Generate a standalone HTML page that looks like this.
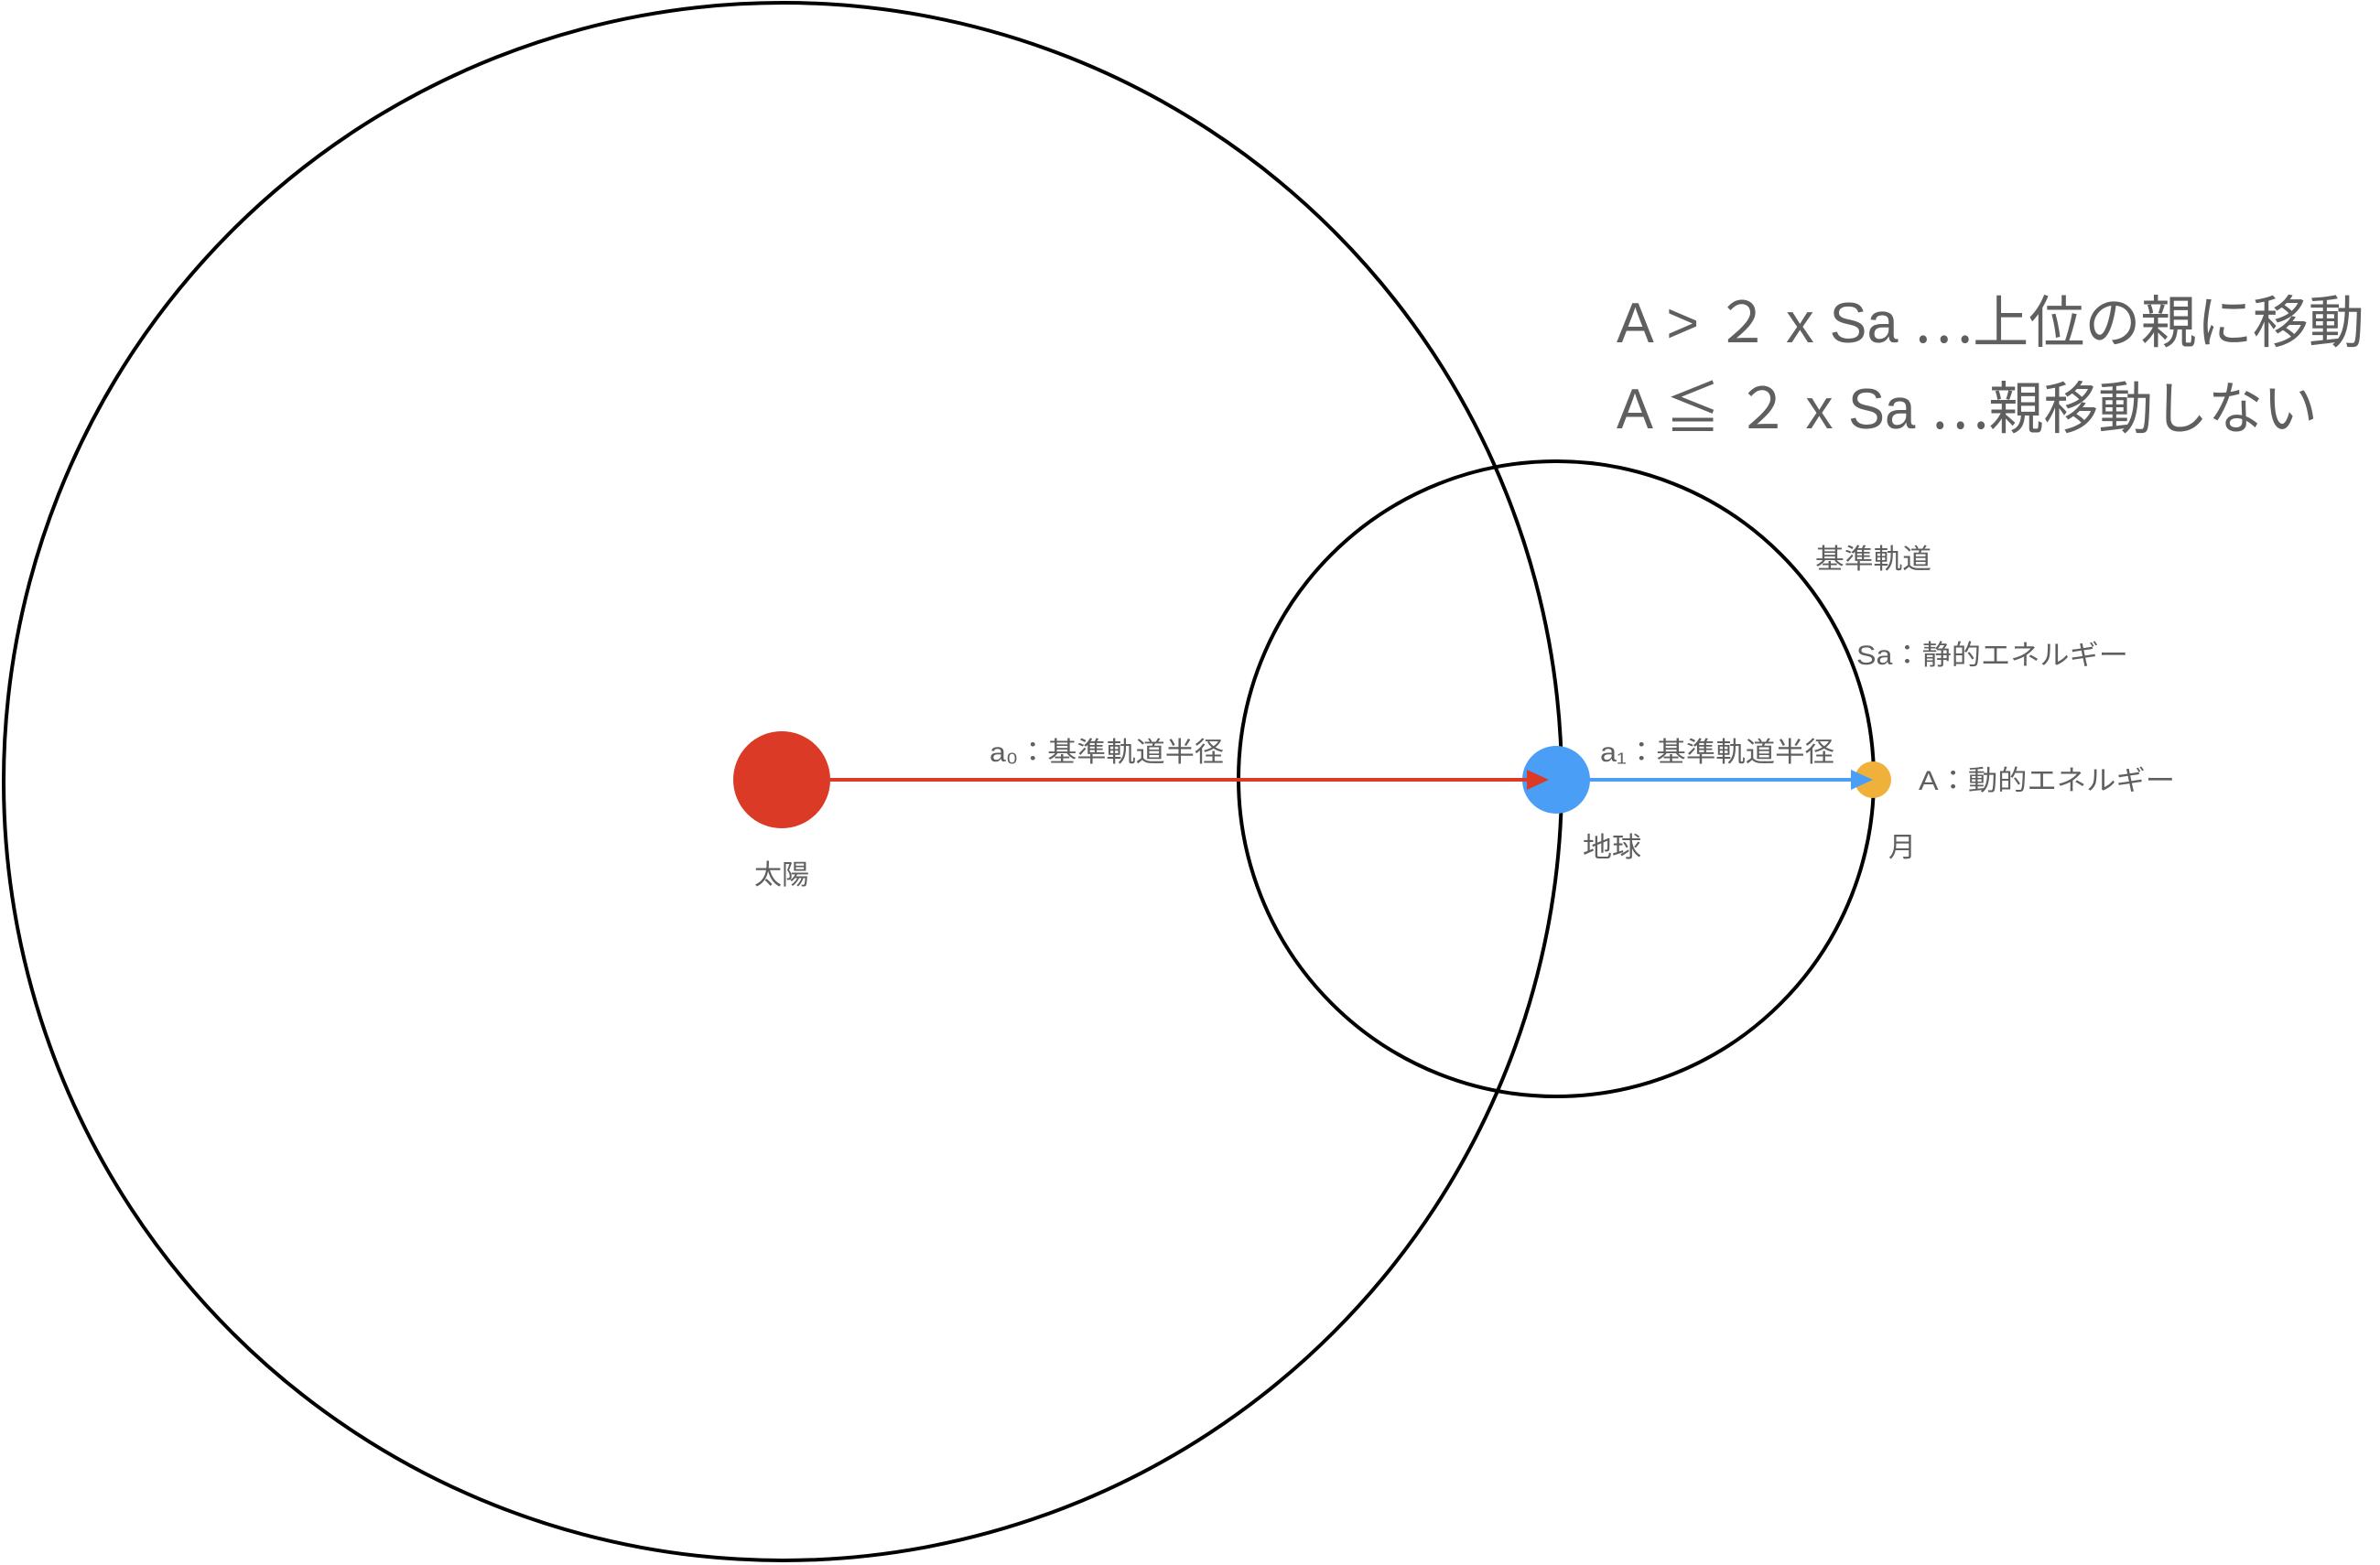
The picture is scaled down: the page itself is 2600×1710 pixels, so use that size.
<!DOCTYPE html>
<html><head><meta charset="utf-8"><style>html,body{margin:0;padding:0;background:#fff}svg{display:block}</style></head>
<body>
<svg width="2600" height="1710" viewBox="0 0 2600 1710" xmlns="http://www.w3.org/2000/svg" font-family="'Liberation Sans','Noto Sans CJK JP',sans-serif" fill="#5f5f5f">
<circle cx="855" cy="854" r="851" fill="none" stroke="#000" stroke-width="4"/>
<circle cx="1700" cy="851" r="347" fill="none" stroke="#000" stroke-width="4"/>
<circle cx="854" cy="852" r="53" fill="#DB3B26"/>
<circle cx="1700" cy="852" r="37" fill="#4A9EF5"/>
<circle cx="2046" cy="852" r="20" fill="#F0B13B"/>
<line x1="895" y1="852" x2="1672" y2="852" stroke="#DB3B26" stroke-width="4"/>
<polygon points="1692,852 1668,841 1668,863" fill="#DB3B26"/>
<line x1="1737" y1="852" x2="2026" y2="852" stroke="#4A9EF5" stroke-width="4"/>
<polygon points="2046,852 2022,841 2022,863" fill="#4A9EF5"/>
<text x="1766" y="374" font-size="62" textLength="817" lengthAdjust="spacingAndGlyphs">A &gt; ２ x Sa <tspan font-family="'Noto Sans CJK JP',sans-serif">⋯</tspan>上位の親に移動</text>
<text x="1766" y="468" font-size="62" textLength="766" lengthAdjust="spacingAndGlyphs">A ≦ ２ x Sa <tspan font-family="'Noto Sans CJK JP',sans-serif">⋯</tspan>親移動しない</text>
<g font-size="30">
<text x="1983" y="621" textLength="127" lengthAdjust="spacingAndGlyphs">基準軌道</text>
<text x="2028" y="726" textLength="297" lengthAdjust="spacingAndGlyphs">Sa：静的エネルギー</text>
<text x="1081" y="832" textLength="256" lengthAdjust="spacingAndGlyphs">a₀：基準軌道半径</text>
<text x="1748" y="832" textLength="256" lengthAdjust="spacingAndGlyphs">a₁：基準軌道半径</text>
<text x="2096" y="863" textLength="280" lengthAdjust="spacingAndGlyphs">A：動的エネルギー</text>
<text x="824" y="966" textLength="60" lengthAdjust="spacingAndGlyphs">太陽</text>
<text x="1729" y="936" textLength="64" lengthAdjust="spacingAndGlyphs">地球</text>
<text x="2063" y="936">月</text>
</g>
</svg>
</body></html>
